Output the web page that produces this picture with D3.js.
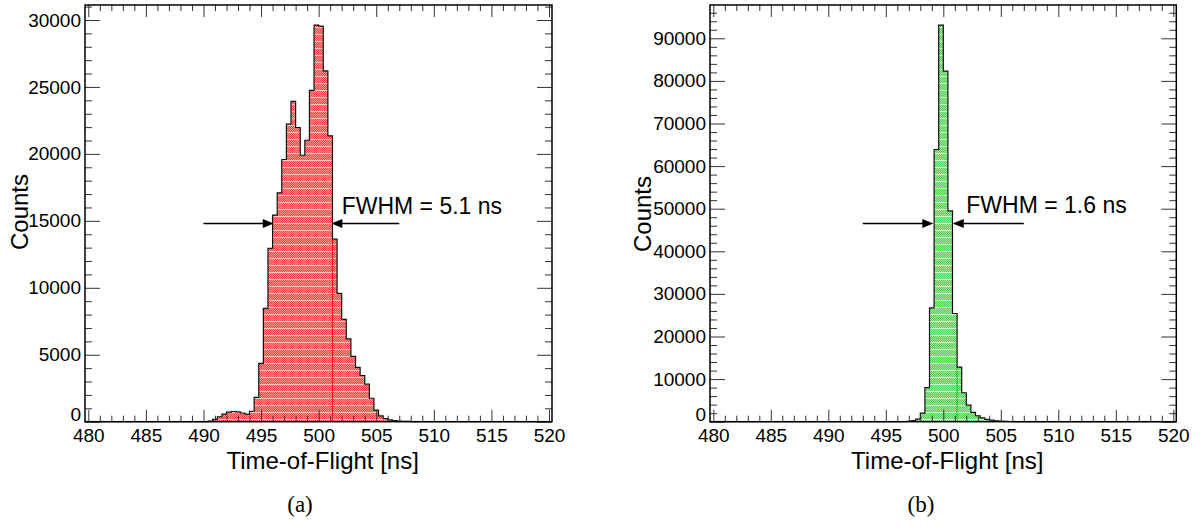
<!DOCTYPE html>
<html>
<head>
<meta charset="utf-8">
<script src="https://cdn.jsdelivr.net/npm/d3@7"></script>
<style>
body { margin: 0; background: #fff; }
svg text { font-family: "Liberation Sans", Arial, sans-serif; fill: #000; }
</style>
</head>
<body>
<script>
// both histograms use 0.4 ns bins
var binWidth = 0.4;

// (a) counts per bin, first bin starts at 490.0 ns
var startA = 490.0;
var countsA = [0, 50, 170, 370, 570, 710, 760, 730, 650, 560,
               780, 1810, 4350, 8460, 12940, 15430, 17090, 19580, 22220, 23930,
               21970, 19900, 21020, 24750, 29620, 29550, 26200, 21350, 13630, 9580,
               7640, 6180, 4880, 4050, 3450, 2800, 1750, 870, 430, 230,
               130, 80, 50, 30, 20, 10, 0];

// (b) counts per bin, first bin starts at 496.0 ns
var startB = 496.0;
var countsB = [0, 50, 100, 250, 600, 2000, 8000, 26700, 63900, 93100,
               82300, 49500, 25400, 12800, 6800, 3900, 2200, 1400, 900, 550,
               350, 220, 140, 90, 50, 30, 20, 0];

var xTicks = [480, 485, 490, 495, 500, 505, 510, 515, 520];
var yTicksA = [0, 5000, 10000, 15000, 20000, 25000, 30000];
var yTicksB = [0, 10000, 20000, 30000, 40000, 50000, 60000, 70000, 80000, 90000];

// FWHM markers: arrow tips, arrow tails, height
var fwhmA = {lo: 496.1, hi: 501.1, tailLo: 490.0, tailHi: 507.0, level: 14800, label: "FWHM = 5.1 ns"};
var fwhmB = {lo: 499.13, hi: 500.82, tailLo: 493.0, tailHi: 507.0, level: 46550, label: "FWHM = 1.6 ns"};

var W = 1200, H = 527;
var svg = d3.select("body").append("svg")
            .attr("width", W)
            .attr("height", H);

var defs = svg.append("defs");

function makePattern(id, base, dot, line) {
    var p = defs.append("pattern")
                .attr("id", id)
                .attr("width", 4)
                .attr("height", 7)
                .attr("patternUnits", "userSpaceOnUse");
    p.append("rect").attr("width", 4).attr("height", 7).attr("fill", base);
    for (var r = 0; r < 6; r++) {
        for (var c = (r % 2); c < 4; c += 2) {
            p.append("rect").attr("x", c).attr("y", r)
             .attr("width", 1).attr("height", 1).attr("fill", dot);
        }
    }
    p.append("rect").attr("x", 0).attr("y", 6)
     .attr("width", 4).attr("height", 1).attr("fill", line);
}
makePattern("fillA", "#ff3c3c", "#ff9494", "#ffc4c4");
makePattern("fillB", "#4ccf4c", "#a4eaa4", "#d2f4d2");

var panel = function(o) {
    var yBottom = 421.7, yTop = 5;

    var x = d3.scaleLinear()
              .domain([480, 520])
              .range([o.x0, o.x1]);

    var y = d3.scaleLinear()
              .domain([0, o.yRef])
              .range([yBottom, o.yRefPx]);

    var yMax = y.invert(yTop);

    // corner points of the step outline
    var pts = [[480, 0], [o.start, 0]];
    o.counts.forEach(function(c, i) {
        var lo = o.start + i * binWidth;
        pts.push([lo, c]);
        pts.push([lo + binWidth, c]);
    });
    pts.push([o.start + o.counts.length * binWidth, 0]);
    pts.push([520, 0]);

    var area = d3.area()
                 .x(d => x(d[0]))
                 .y0(y(0))
                 .y1(d => y(d[1]));

    var line = d3.line()
                 .x(d => x(d[0]))
                 .y(d => y(d[1]));

    var g = svg.append("g");

    g.append("path")
     .datum(pts)
     .attr("d", area)
     .attr("fill", "url(#" + o.pattern + ")");

    // thin vertical line seen inside the fill at the 501.2 ns bin edge
    var k = Math.round((501.2 - o.start) / binWidth);
    g.append("line")
     .attr("x1", x(o.start + k * binWidth))
     .attr("x2", x(o.start + k * binWidth))
     .attr("y1", y(o.counts[k]))
     .attr("y2", y(0))
     .attr("stroke", o.edgeLine)
     .attr("stroke-width", 1);

    g.append("path")
     .datum(pts)
     .attr("d", line)
     .attr("fill", "none")
     .attr("stroke", "#111")
     .attr("stroke-width", 1.2);

    var minorX = d3.range(480, 521, 1).filter(v => v % 5 !== 0);
    var minorY = d3.range(0, yMax, o.yMinor).filter(v => v % o.yMajor !== 0);

    var clean = function(sel) {
        sel.select(".domain").remove();
        sel.selectAll(".tick line").attr("stroke", "#333");
        sel.attr("font-size", null).attr("font-family", null);
    };

    // bottom axis
    g.append("g")
     .attr("transform", "translate(0," + yBottom + ")")
     .call(d3.axisBottom(x).tickValues(xTicks).tickSize(-12).tickPadding(7).tickFormat(d3.format("d")))
     .call(clean)
     .selectAll("text").style("font-size", "19px");
    g.append("g")
     .attr("transform", "translate(0," + yBottom + ")")
     .call(d3.axisBottom(x).tickValues(minorX).tickSize(-6).tickFormat(""))
     .call(clean);

    // top axis
    g.append("g")
     .attr("transform", "translate(0," + yTop + ")")
     .call(d3.axisTop(x).tickValues(xTicks).tickSize(-12).tickFormat(""))
     .call(clean);
    g.append("g")
     .attr("transform", "translate(0," + yTop + ")")
     .call(d3.axisTop(x).tickValues(minorX).tickSize(-6).tickFormat(""))
     .call(clean);

    var fl = o.x0 - 3.3, fr = o.x1 + 3;

    // left axis
    var yAx = g.append("g")
     .attr("transform", "translate(" + fl + ",0)")
     .call(d3.axisLeft(y).tickValues(o.yTicks).tickSize(-15).tickPadding(4).tickFormat(d3.format("d")))
     .call(clean);
    yAx.selectAll("text").style("font-size", "19px");
    // the 0 label sits just above the x labels, as in ROOT
    yAx.selectAll(".tick text").filter(d => d === 0).attr("dy", "-0.05em");
    g.append("g")
     .attr("transform", "translate(" + fl + ",0)")
     .call(d3.axisLeft(y).tickValues(minorY).tickSize(-7).tickFormat(""))
     .call(clean);

    // right axis
    g.append("g")
     .attr("transform", "translate(" + fr + ",0)")
     .call(d3.axisRight(y).tickValues(o.yTicks).tickSize(-15).tickFormat(""))
     .call(clean);
    g.append("g")
     .attr("transform", "translate(" + fr + ",0)")
     .call(d3.axisRight(y).tickValues(minorY).tickSize(-7).tickFormat(""))
     .call(clean);

    // frame
    g.append("rect")
     .attr("x", fl)
     .attr("y", yTop)
     .attr("width", fr - fl)
     .attr("height", yBottom - yTop)
     .attr("fill", "none")
     .attr("stroke", "#000")
     .attr("stroke-width", 1.5);

    // FWHM arrows
    var f = o.fwhm, ay = y(f.level);
    [[f.tailLo, f.lo, 1], [f.tailHi, f.hi, -1]].forEach(function(a) {
        var tip = x(a[1]), dir = a[2];
        g.append("line")
         .attr("x1", x(a[0])).attr("x2", tip - dir * 8)
         .attr("y1", ay).attr("y2", ay)
         .attr("stroke", "#000").attr("stroke-width", 1.5);
        g.append("path")
         .attr("d", "M" + tip + "," + ay +
                    "L" + (tip - dir * 11) + "," + (ay - 4.5) +
                    "L" + (tip - dir * 11) + "," + (ay + 4.5) + "Z")
         .attr("fill", "#000");
    });
    g.append("text")
     .attr("x", x(502.0))
     .attr("y", ay - 10)
     .style("font-size", "23px")
     .text(f.label);

    // axis titles
    g.append("text")
     .attr("x", (o.x0 + o.x1) / 2 + 4)
     .attr("y", 469)
     .attr("text-anchor", "middle")
     .style("font-size", "24px")
     .text("Time-of-Flight [ns]");

    g.append("text")
     .attr("transform", "translate(" + o.countsX + "," + o.countsY + ") rotate(-90)")
     .attr("text-anchor", "middle")
     .style("font-size", "24px")
     .text("Counts");

    g.append("text")
     .attr("x", o.capX)
     .attr("y", 512)
     .attr("text-anchor", "middle")
     .style("font-family", "'Liberation Serif', 'DejaVu Serif', serif")
     .style("font-size", "23px")
     .text(o.caption);
};

panel({x0: 88.3, x1: 549, yRef: 30000, yRefPx: 20, yMajor: 5000, yMinor: 1000,
       yTicks: yTicksA, start: startA, counts: countsA, pattern: "fillA",
       edgeLine: "#ff1010", fwhm: fwhmA, countsX: 28, countsY: 212,
       capX: 300, caption: "(a)"});

panel({x0: 713.3, x1: 1173.3, yRef: 90000, yRefPx: 38.3, yMajor: 10000, yMinor: 2000,
       yTicks: yTicksB, start: startB, counts: countsB, pattern: "fillB",
       edgeLine: "#22c022", fwhm: fwhmB, countsX: 651, countsY: 214,
       capX: 921, caption: "(b)"});
</script>
</body>
</html>
